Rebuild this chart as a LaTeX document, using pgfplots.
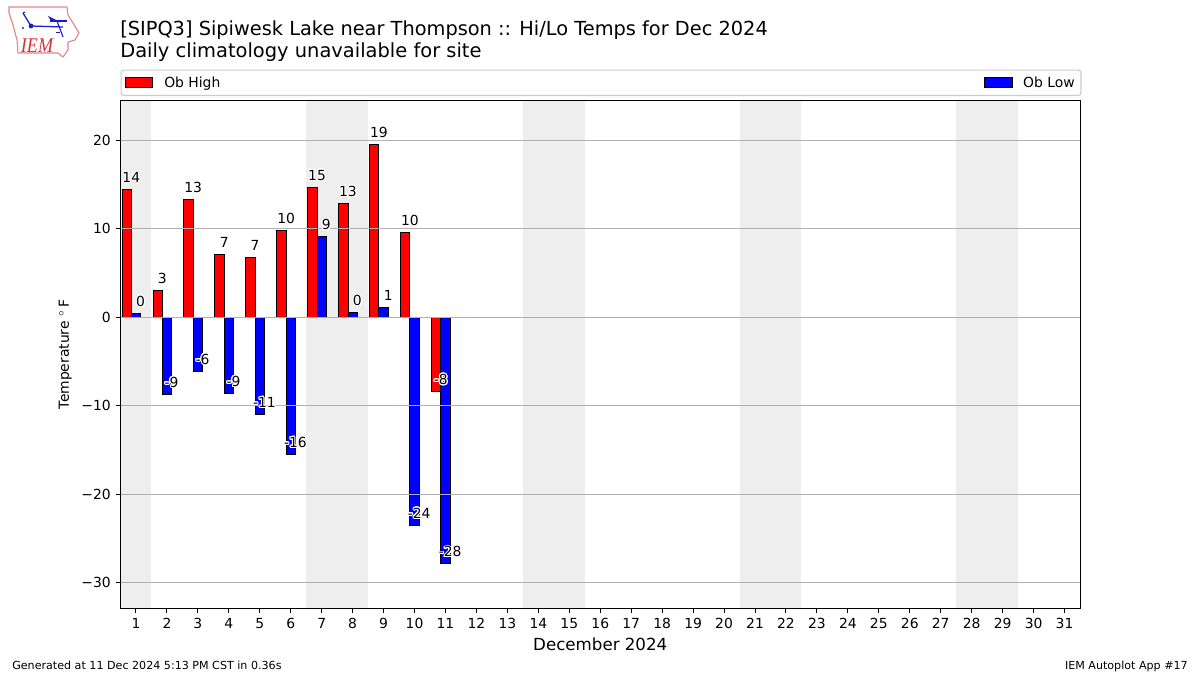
\documentclass[border=0pt]{standalone}
\usepackage{fontspec}
\setmainfont{DejaVu Sans}
\newfontfamily\logofont{Liberation Serif}
\usepackage{pgfplots}
\usepackage{pgfplotstable}
\usepackage[copies]{contour}
\pgfplotsset{compat=1.18}
\contourlength{0.7pt}
\contournumber{24}
\definecolor{shade}{HTML}{EEEEEE}
\definecolor{gridc}{HTML}{B0B0B0}
\definecolor{legc}{HTML}{CCCCCC}
\definecolor{logored}{HTML}{D8303A}
\definecolor{logoblue}{HTML}{1A1AD0}
\newcommand{\px}{0.72pt}

\pgfplotstableread{
day high low hilab lolab
1  14.5  0.4 14 0
2  3.0  -8.7 3 -9
3  13.3 -6.1 13 -6
4  7.1  -8.6 7 -9
5  6.8 -11.0 7 -11
6  9.8 -15.5 10 -16
7  14.7  9.1 15 9
8  12.9  0.5 13 0
9  19.5  1.1 19 1
10 9.6 -23.5 10 -24
11 -8.4 -27.9 -8 -28
}\temps

\begin{document}
\begin{tikzpicture}
\path[use as bounding box] (0,0) rectangle (1200*\px,675*\px);
\begin{axis}[
    at={(120.5*\px,66.5*\px)},
    anchor=south west,
    scale only axis,
    width=959.5*\px,
    height=508*\px,
    xmin=0.5, xmax=31.5,
    ymin=-32.94, ymax=24.51,
    axis on top,
    axis line style={line width=0.7pt},
    tick style={black,line width=0.7pt},
    major tick length=3.5pt,
    tick align=outside,
    xtick pos=lower,
    ytick pos=left,
    xtick={1,...,31},
    xticklabels={1,2,3,4,5,6,7,8,9,10,11,12,13,14,15,16,17,18,19,20,21,22,23,24,25,26,27,28,29,30,31},
    ytick={-30,-20,-10,0,10,20},
    yticklabels={−30,−20,−10,0,10,20},
    tick label style={font=\fontsize{10}{12}\selectfont},
    xlabel={December 2024},
    xlabel style={font=\fontsize{12}{14}\selectfont},
    ylabel={Temperature $^\circ$\,F},
    ylabel style={font=\fontsize{10}{12}\selectfont},
    legend columns=2,
    legend cell align=left,
    legend style={
        at={(0,1)}, anchor=south west, yshift=3.2pt,
        draw=legc, line width=0.8pt, rounded corners=2pt,
        font=\fontsize{10}{12}\selectfont,
        inner xsep=2.6pt, inner ysep=2.6pt,
        /tikz/column 1/.style={column sep=5.8pt},
        /tikz/column 2/.style={column sep=547.8pt},
        /tikz/column 3/.style={column sep=5.5pt},
    },
    legend image code/.code={
        \draw[#1,line width=0.7pt,sharp corners] (0pt,-3.6pt) rectangle (20pt,3.6pt);
    },
    nodes near coords={\contour{white}{\pgfplotspointmeta}},
    every node near coord/.style={anchor=base,inner sep=0pt,yshift=5pt,font=\fontsize{10}{12}\selectfont,text=black},
]
% weekends
\addplot[fill=shade,draw=none,forget plot,nodes near coords=] coordinates {(0.5,-32.94)(1.5,-32.94)(1.5,24.51)(0.5,24.51)};
\addplot[fill=shade,draw=none,forget plot,nodes near coords=] coordinates {(6.5,-32.94)(8.5,-32.94)(8.5,24.51)(6.5,24.51)};
\addplot[fill=shade,draw=none,forget plot,nodes near coords=] coordinates {(13.5,-32.94)(15.5,-32.94)(15.5,24.51)(13.5,24.51)};
\addplot[fill=shade,draw=none,forget plot,nodes near coords=] coordinates {(20.5,-32.94)(22.5,-32.94)(22.5,24.51)(20.5,24.51)};
\addplot[fill=shade,draw=none,forget plot,nodes near coords=] coordinates {(27.5,-32.94)(29.5,-32.94)(29.5,24.51)(27.5,24.51)};
% bars
\addplot[ybar,bar width=0.3,bar shift=-0.3,fill=red,draw=black,line width=0.7pt,nodes near coords=] table[x=day,y=high] {\temps};
\addlegendentry{Ob High}
\addplot[ybar,bar width=0.3,bar shift=0,fill=blue,draw=black,line width=0.7pt,nodes near coords=] table[x=day,y=low] {\temps};
\addlegendentry{Ob Low}
% grid goes over the bars
\pgfplotsinvokeforeach{-30,-20,-10,0,10,20}{
    \addplot[gridc,line width=0.8pt,forget plot,nodes near coords=] coordinates {(0.5,#1)(31.5,#1)};
}
% value labels
\addplot[draw=none,forget plot,point meta=explicit symbolic] table[x expr=\thisrow{day}-0.15,y=high,meta=hilab] {\temps};
\addplot[draw=none,forget plot,point meta=explicit symbolic] table[x expr=\thisrow{day}+0.15,y=low,meta=lolab] {\temps};
\end{axis}
% titles and footer
\node[anchor=base west,inner sep=0pt,font=\fontsize{13.94}{16}\selectfont] at (120*\px,639*\px) {[SIPQ3] Sipiwesk Lake near Thompson :: Hi/Lo Temps for Dec 2024};
\node[anchor=base west,inner sep=0pt,font=\fontsize{14}{16}\selectfont] at (120*\px,617*\px) {Daily climatology unavailable for site};
\node[anchor=base west,inner sep=0pt,font=\fontsize{8}{10}\selectfont] at (12*\px,6*\px) {Generated at 11 Dec 2024 5:13 PM CST in 0.36s};
\node[anchor=base east,inner sep=0pt,font=\fontsize{8}{10}\selectfont] at (1188*\px,6*\px) {IEM Autoplot App \#17};
% logo
\draw[logored!60,line width=0.8pt,line join=round] (9*\px,668*\px) -- (67*\px,668*\px) -- (68*\px,660*\px) -- (73*\px,652*\px) -- (79*\px,642*\px) -- (75*\px,635*\px) -- (68*\px,633*\px) -- (68*\px,625*\px) -- (63*\px,618*\px) -- (58*\px,622*\px) -- (18*\px,622*\px) -- (17*\px,635*\px) -- (13*\px,650*\px) -- (9*\px,662*\px) -- cycle;
\draw[logoblue,line width=0.9pt] (23*\px,662*\px) -- (31*\px,649*\px) -- (63*\px,648*\px);
\draw[logoblue,line width=0.8pt] (23*\px,662*\px) -- (25*\px,663*\px);
\fill[logoblue] (31*\px,649*\px) circle (2.4*\px);
\fill[logoblue] (48*\px,659*\px) -- (58*\px,654*\px) -- (51*\px,654*\px) -- cycle;
\draw[logoblue,line width=0.8pt] (50*\px,654*\px) -- (67*\px,654*\px);
\draw[logoblue,line width=0.8pt] (57*\px,654*\px) -- (63*\px,638*\px);
\draw[logoblue,line width=0.6pt] (56*\px,643*\px) -- (60*\px,643*\px);
\fill[logoblue] (23*\px,647*\px) circle (1.2*\px);
\node[anchor=base,inner sep=0pt,text=logored,xscale=0.87,font=\logofont\itshape\fontsize{15}{16}\selectfont] at (37*\px,622*\px) {IEM};
\end{tikzpicture}
\end{document}
